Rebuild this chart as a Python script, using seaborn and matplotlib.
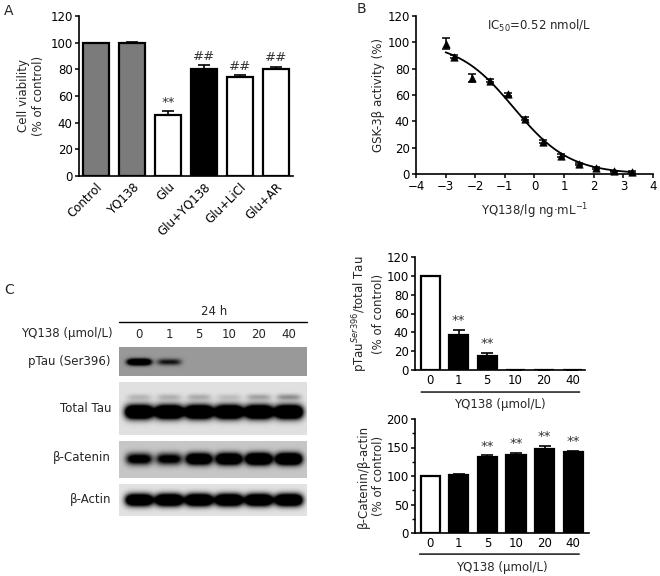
import numpy as np
import pandas as pd
import matplotlib
matplotlib.use("Agg")
import matplotlib.pyplot as plt
import seaborn as sns
from matplotlib.ticker import MultipleLocator

sns.set_theme(style="ticks")
plt.rcParams["font.family"] = ["DejaVu Sans"]
plt.rcParams["mathtext.fontset"] = "dejavusans"

# ---------------- data ----------------
a_groups = ["Control", "YQ138", "Glu", "Glu+YQ138", "Glu+LiCl", "Glu+AR"]
a_values = [100, 100, 46, 80, 74, 80]
a_errors = [0, 0.6, 2.5, 3.0, 1.5, 1.8]
a_marks = ["", "", "**", "##", "##", "##"]
a_colors = ["#7b7b7b", "#7b7b7b", "white", "black", "white", "white"]

b_logdose = [-3.0, -2.72, -2.12, -1.5, -0.91, -0.33, 0.29, 0.91, 1.5, 2.09, 2.7, 3.3]
b_activity = [99, 89, 73, 71, 60.5, 42, 24.5, 14, 7.5, 4.5, 2, 1.5]
b_errors = [4, 1, 3, 1, 1, 1, 1, 1, 1, 0.5, 0.5, 0.5]

c_doses = ["0", "1", "5", "10", "20", "40"]
c_ptau = [100, 37, 15, 0, 0, 0]
c_ptau_err = [0, 6, 3, 0, 0, 0]
c_ptau_marks = ["", "**", "**", "", "", ""]
c_cat = [100, 102, 133, 137, 148, 142]
c_cat_err = [0, 2, 3, 3, 5, 2.5]
c_cat_marks = ["", "", "**", "**", "**", "**"]
c_colors = ["white", "black", "black", "black", "black", "black"]

blot_names = ["pTau (Ser396)", "Total Tau", "β-Catenin", "β-Actin"]
blot_ptau = [1.0, 0.42, 0.0, 0.0, 0.0, 0.0]
blot_tau = [1.0, 1.0, 1.0, 1.0, 1.0, 1.0]
blot_tau_upper = [0.16, 0.18, 0.20, 0.13, 0.24, 0.32]
blot_cat = [0.62, 0.58, 0.9, 0.95, 1.05, 1.05]
blot_actin = [0.95, 1.0, 1.0, 1.0, 0.98, 1.0]

W, H = 660, 576
FS = 8.5
fig = plt.figure(figsize=(W / 100, H / 100), dpi=100)


def px_axes(l, t, r, b):
    return fig.add_axes([l / W, 1 - b / H, (r - l) / W, (b - t) / H])


def ftext(x, y, s, **kw):
    fig.text(x / W, 1 - y / H, s, **kw)


def style_axes(ax):
    sns.despine(ax=ax)
    for sp in ["left", "bottom"]:
        ax.spines[sp].set_linewidth(1.2)
        ax.spines[sp].set_color("black")
    ax.tick_params(axis="both", labelsize=FS, colors="black", width=1.1, length=3, pad=1.5)


def bar_panel(ax, cats, vals, errs, colors, marks, width):
    df = pd.DataFrame({"cat": cats, "val": vals})
    sns.barplot(data=df, x="cat", y="val", hue="cat", palette=colors, legend=False,
                ax=ax, width=width, edgecolor="black", linewidth=1.6, errorbar=None,
                saturation=1)
    pos = np.arange(len(cats))
    ax.errorbar(pos, vals, yerr=[np.zeros(len(errs)), errs], fmt="none",
                ecolor="black", elinewidth=1.2, capsize=4.2, capthick=1.2)
    for p, v, e, m in zip(pos, vals, errs, marks):
        if m:
            ax.annotate(m, (p, v + e), xytext=(0, 2), textcoords="offset points",
                        ha="center", va="bottom", fontsize=FS + 1, color="#333333")
    ax.set_xlabel("")


# ---------------- panel A ----------------
axA = px_axes(79, 16, 293, 176)
bar_panel(axA, a_groups, a_values, a_errors, a_colors, a_marks, 0.7)
style_axes(axA)
axA.set_xlim(-0.47, 5.47)
axA.set_ylim(0, 120)
axA.yaxis.set_major_locator(MultipleLocator(20))
axA.tick_params(axis="x", length=0, pad=3)
for lab in axA.get_xticklabels():
    lab.set_rotation(45)
    lab.set_ha("right")
    lab.set_rotation_mode("anchor")
axA.set_ylabel("Cell viability\n(% of control)", fontsize=FS, labelpad=4)

# ---------------- panel B ----------------
axB = px_axes(416, 16, 653, 174)
dfb = pd.DataFrame({"x": b_logdose, "y": b_activity})
# four-parameter logistic fit to the data (least squares grid search)
xb = np.array(b_logdose)
yb = np.array(b_activity)
tops = np.linspace(85, 110, 51)[:, None, None]
mids = np.linspace(-1.5, 0.5, 81)[None, :, None]
hills = np.linspace(0.3, 1.2, 91)[None, None, :]
pred = tops[..., None] / (1 + 10 ** ((xb - mids[..., None]) * hills[..., None]))
sse = ((pred - yb) ** 2).sum(-1)
i, j, k = np.unravel_index(np.argmin(sse), sse.shape)
top, mid, hill = tops[i, 0, 0], mids[0, j, 0], hills[0, 0, k]
xf = np.linspace(xb.min(), xb.max(), 200)
fit = pd.DataFrame({"x": xf, "y": top / (1 + 10 ** ((xf - mid) * hill))})
sns.lineplot(data=fit, x="x", y="y", ax=axB, color="black", linewidth=1.3)
axB.errorbar(b_logdose, b_activity, yerr=b_errors, fmt="none", ecolor="black",
             elinewidth=1.1, capsize=3, capthick=1.1)
sns.scatterplot(data=dfb, x="x", y="y", ax=axB, marker="^", s=28, color="black",
                edgecolor="black", linewidth=0.5, zorder=5, clip_on=False)
style_axes(axB)
axB.set_xlim(-4, 4)
axB.set_ylim(0, 120)
axB.xaxis.set_major_locator(MultipleLocator(1))
axB.yaxis.set_major_locator(MultipleLocator(20))
axB.set_xlabel("YQ138/lg ng·mL$^{-1}$", fontsize=FS, labelpad=6)
axB.set_ylabel("GSK-3β activity (%)", fontsize=FS, labelpad=2)
axB.text(0.52, 0.94, "IC$_{50}$=0.52 nmol/L", transform=axB.transAxes, ha="center",
         va="center", fontsize=FS)

# ---------------- panel C: bar charts ----------------
axC1 = px_axes(415, 257, 585, 370)
bar_panel(axC1, c_doses, c_ptau, c_ptau_err, c_colors, c_ptau_marks, 0.67)
style_axes(axC1)
axC1.set_xlim(-0.53, 5.44)
axC1.set_ylim(0, 120)
axC1.yaxis.set_major_locator(MultipleLocator(20))
axC1.tick_params(axis="x", length=0, pad=3)
axC1.set_ylabel("pTau$^{Ser396}$/total Tau\n(% of control)", fontsize=FS, labelpad=1)
axC1.set_xlabel("YQ138 (μmol/L)", fontsize=FS, labelpad=8)
axC1.annotate("", xy=(0.02, -0.195), xytext=(0.985, -0.195), xycoords="axes fraction",
              arrowprops=dict(arrowstyle="-", color="black", lw=1.0))

axC2 = px_axes(415, 419, 589, 533)
bar_panel(axC2, c_doses, c_cat, c_cat_err, c_colors, c_cat_marks, 0.67)
style_axes(axC2)
axC2.set_xlim(-0.53, 5.55)
axC2.set_ylim(0, 200)
axC2.yaxis.set_major_locator(MultipleLocator(50))
axC2.yaxis.set_minor_locator(MultipleLocator(25))
axC2.tick_params(axis="y", which="minor", length=2, width=1.0, color="black", left=True)
axC2.tick_params(axis="x", length=0, pad=3)
axC2.set_ylabel("β-Catenin/β-actin\n(% of control)", fontsize=FS, labelpad=1)
axC2.set_xlabel("YQ138 (μmol/L)", fontsize=FS, labelpad=8)
axC2.annotate("", xy=(0.01, -0.185), xytext=(0.96, -0.185), xycoords="axes fraction",
              arrowprops=dict(arrowstyle="-", color="black", lw=1.0))

# ---------------- panel C: western blot ----------------
X0, X1 = -0.67, 5.6
axW = px_axes(119, 300, 307, 520)
axW.set_xlim(X0, X1)
axW.set_ylim(520, 300)
axW.axis("off")

lanes = np.arange(len(c_doses))
gx = np.linspace(X0, X1, 376)


def blot(top, bottom, bg, bands):
    gy = np.linspace(top, bottom, int((bottom - top) * 4))
    img = np.full((gy.size, gx.size), bg)
    for yc, wy, wx, amps in bands:
        for ln, a in zip(lanes, amps):
            img += a * np.exp(-((gx[None, :] - ln) / wx) ** 4) * np.exp(-((gy[:, None] - yc) / wy) ** 2)
    img = np.clip(img, 0, 1)
    axW.imshow(img, cmap="gray_r", vmin=0, vmax=1, extent=(X0, X1, bottom, top),
               aspect="auto", interpolation="bilinear")


blot(347, 376, 0.40, [(362, 3.2, 0.40, [1.3 * v for v in blot_ptau])])
blot(382, 435, 0.12, [(412, 6.8, 0.47, [2.0 * v for v in blot_tau]),
                      (397, 3.0, 0.40, blot_tau_upper)])
blot(441, 478, 0.22, [(459, 5.8, 0.44, [1.7 * v for v in blot_cat])])
blot(484, 516, 0.11, [(500, 6.0, 0.46, [1.9 * v for v in blot_actin])])
axW.set_xlim(X0, X1)
axW.set_ylim(520, 300)

axW.text(2.5, 311, "24 h", ha="center", va="center", fontsize=FS)
axW.plot([X0, X1], [322, 322], color="black", lw=1.0, clip_on=False)
for ln, d in zip(lanes, c_doses):
    axW.text(ln, 334, d, ha="center", va="center", fontsize=FS)
ftext(113, 334, "YQ138 (μmol/L)", ha="right", va="center", fontsize=FS)
for name, yy in zip(blot_names, [361, 409, 458, 499]):
    ftext(111, yy, name, ha="right", va="center", fontsize=FS)

# ---------------- panel letters ----------------
ftext(4, 11, "A", fontsize=10, va="center")
ftext(357, 9, "B", fontsize=10, va="center")
ftext(4, 290, "C", fontsize=10, va="center")

fig.savefig("out.png", dpi=100, facecolor="white")
